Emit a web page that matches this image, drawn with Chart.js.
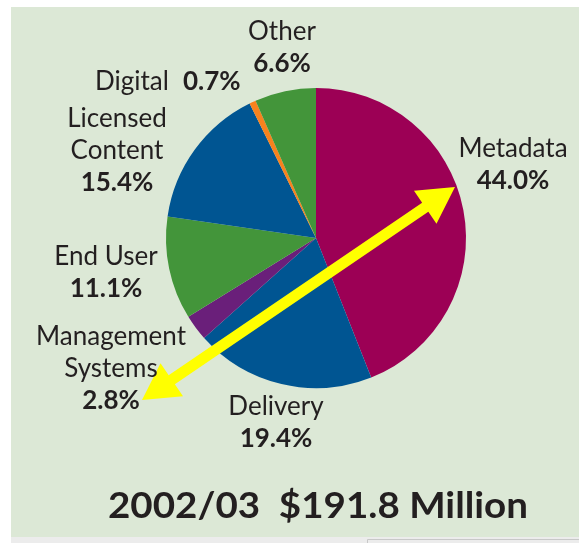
<!DOCTYPE html>
<html>
<head>
<meta charset="utf-8">
<script src="https://cdn.jsdelivr.net/npm/chart.js@4"></script>
<style>
html,body{margin:0;padding:0;background:#fff;}
canvas{display:block;}
</style>
</head>
<body>
<canvas id="c" width="579" height="543"></canvas>
<script>
// ---- data ----
const categories = ['Metadata', 'Delivery', 'Management Systems', 'End User', 'Licensed Content', 'Digital', 'Other'];
const nameLines = [['Metadata'], ['Delivery'], ['Management', 'Systems'], ['End User'], ['Licensed', 'Content'], ['Digital'], ['Other']];
const shares = [44.0, 19.4, 2.8, 11.1, 15.4, 0.7, 6.6];
const sliceColors = ['#9C0055', '#005592', '#6A1F7A', '#43953A', '#005592', '#F7821E', '#43953A'];
const title = '2002/03  $191.8 Million';

// label anchor (center x, first baseline y) per category — layout only
const labelPos = [
  {x: 513, y: 157}, {x: 276, y: 415}, {x: 111, y: 345}, {x: 106, y: 265},
  {x: 117, y: 127}, {x: 95, y: 90, inline: true}, {x: 282, y: 40}
];
const LINE = 32;

const decor = {
  id: 'decor',
  beforeDraw(chart) {
    const ctx = chart.ctx;
    ctx.save();
    ctx.fillStyle = '#ffffff';
    ctx.fillRect(0, 0, 579, 543);
    ctx.fillStyle = '#DCE8D6';
    ctx.fillRect(11, 7, 568, 530);
    ctx.fillStyle = '#ECECEC';
    ctx.fillRect(11, 537, 568, 6);
    ctx.strokeStyle = '#C8C8C8';
    ctx.lineWidth = 1;
    ctx.beginPath();
    ctx.moveTo(367.5, 543); ctx.lineTo(367.5, 539.5); ctx.lineTo(579, 539.5);
    ctx.stroke();
    ctx.restore();
  },
  afterDraw(chart) {
    const ctx = chart.ctx;
    ctx.save();
    // yellow double arrow (annotation)
    const tip1 = {x: 455, y: 187};
    const tip2 = {x: 142, y: 400};
    const dx = tip1.x - tip2.x, dy = tip1.y - tip2.y;
    const L = Math.hypot(dx, dy);
    const ux = dx / L, uy = dy / L, px = -uy, py = ux;
    const head = 36, hw = 20, sw = 5.5;
    ctx.fillStyle = '#FFFF00';
    ctx.beginPath();
    ctx.moveTo(tip1.x, tip1.y);
    ctx.lineTo(tip1.x - ux * head + px * hw, tip1.y - uy * head + py * hw);
    ctx.lineTo(tip1.x - ux * head + px * sw, tip1.y - uy * head + py * sw);
    ctx.lineTo(tip2.x + ux * head + px * sw, tip2.y + uy * head + py * sw);
    ctx.lineTo(tip2.x + ux * head + px * hw, tip2.y + uy * head + py * hw);
    ctx.lineTo(tip2.x, tip2.y);
    ctx.lineTo(tip2.x + ux * head - px * hw, tip2.y + uy * head - py * hw);
    ctx.lineTo(tip2.x + ux * head - px * sw, tip2.y + uy * head - py * sw);
    ctx.lineTo(tip1.x - ux * head - px * sw, tip1.y - uy * head - py * sw);
    ctx.lineTo(tip1.x - ux * head - px * hw, tip1.y - uy * head - py * hw);
    ctx.closePath();
    ctx.fill();

    // labels
    ctx.fillStyle = '#231F20';
    ctx.textBaseline = 'alphabetic';
    const reg = '26px Lato';
    const bold = 'bold 26px Lato';
    categories.forEach((cat, i) => {
      const p = labelPos[i];
      const pct = shares[i].toFixed(1) + '%';
      if (p.inline) {
        ctx.textAlign = 'left';
        ctx.font = reg;
        ctx.fillText(nameLines[i][0], p.x, p.y);
        ctx.font = bold;
        ctx.fillText(pct, 183, p.y);
        return;
      }
      ctx.textAlign = 'center';
      ctx.font = reg;
      nameLines[i].forEach((ln, k) => ctx.fillText(ln, p.x, p.y + k * LINE));
      ctx.font = bold;
      ctx.fillText(pct, p.x, p.y + nameLines[i].length * LINE);
    });

    // title, stretched to the reference width
    ctx.font = 'bold 36px Lato';
    ctx.textAlign = 'left';
    const w = ctx.measureText(title).width;
    ctx.translate(108, 518);
    ctx.scale(420 / w, 1);
    ctx.fillText(title, 0, 0);
    ctx.restore();
  }
};

new Chart(document.getElementById('c'), {
  type: 'pie',
  data: {
    labels: categories,
    datasets: [{
      data: shares,
      backgroundColor: sliceColors,
      borderWidth: 0
    }]
  },
  options: {
    responsive: false,
    animation: false,
    rotation: 0,
    layout: {padding: {left: 166, right: 113, top: 88, bottom: 155}},
    plugins: {legend: {display: false}, tooltip: {enabled: false}, title: {display: false}}
  },
  plugins: [decor]
});
</script>
</body>
</html>
